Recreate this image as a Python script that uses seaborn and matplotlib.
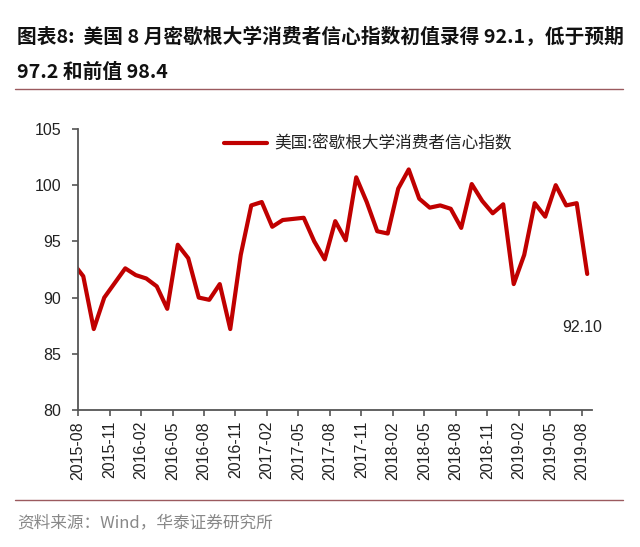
import numpy as np
import pandas as pd
import matplotlib
matplotlib.use("Agg")
import matplotlib.pyplot as plt
import seaborn as sns

# 月度数据：2015-07 ~ 2019-08（2015-07 仅用于左侧截断处的连线）
months = pd.period_range("2015-07", "2019-08", freq="M").strftime("%Y-%m").tolist()
sentiment = [
    93.1,                                                   # 2015-07
    91.9, 87.2, 90.0, 91.3, 92.6,                           # 2015-08 ~ 12
    92.0, 91.7, 91.0, 89.0, 94.7, 93.5, 90.0, 89.8, 91.2, 87.2, 93.8, 98.2,   # 2016
    98.5, 96.3, 96.9, 97.0, 97.1, 95.0, 93.4, 96.8, 95.1, 100.7, 98.5, 95.9,  # 2017
    95.7, 99.7, 101.4, 98.8, 98.0, 98.2, 97.9, 96.2, 100.1, 98.6, 97.5, 98.3, # 2018
    91.2, 93.8, 98.4, 97.2, 100.0, 98.2, 98.4, 92.1,        # 2019-01 ~ 08
]
tick_labels = ["2015-08", "2015-11", "2016-02", "2016-05", "2016-08", "2016-11",
               "2017-02", "2017-05", "2017-08", "2017-11", "2018-02", "2018-05",
               "2018-08", "2018-11", "2019-02", "2019-05", "2019-08"]
series_name = "美国:密歇根大学消费者信心指数"
last_label = "92.10"

df = pd.DataFrame({"month": months, "value": sentiment})
df["pos"] = np.arange(len(df))

sns.set_theme(style="white")
plt.rcParams['font.family'] = ['Noto Sans CJK SC', 'DejaVu Sans']
plt.rcParams['axes.unicode_minus'] = False

fig = plt.figure(figsize=(6.4, 5.47), dpi=100)
ax = fig.add_axes([0.1219, 0.2505, 0.803, 0.5137])

sns.lineplot(data=df, x="pos", y="value", ax=ax, color="#C00000",
             linewidth=3.0, label=series_name)

# 刻标位于相邻两月之间
tick_pos = [df.index[df["month"] == m][0] - 0.5 for m in tick_labels]
ax.set_xticks(tick_pos)
ax.set_xticklabels(tick_labels, rotation=90, family=['Liberation Sans', 'DejaVu Sans'],
                   fontsize=11.5, color="#222222")
ax.set_xlim(0.5, 49.45)
ax.set_ylim(80, 105)
ax.set_yticks([80, 85, 90, 95, 100, 105])
ax.set_yticklabels(["80", "85", "90", "95", "100", "105"],
                   family=['Liberation Sans', 'DejaVu Sans'], fontsize=11.5, color="#222222")
ax.set_xlabel("")
ax.set_ylabel("")

for s in ["top", "right"]:
    ax.spines[s].set_visible(False)
for s in ["left", "bottom"]:
    ax.spines[s].set_color("#555555")
    ax.spines[s].set_linewidth(1.3)
ax.tick_params(axis="both", direction="out", length=4, width=1.2, color="#555555",
               left=True, bottom=True, pad=8)
ax.tick_params(axis="x", pad=4)

leg = ax.legend(loc="upper left", bbox_to_anchor=(0.255, 1.03), frameon=False,
                handlelength=2.6, fontsize=12, handletextpad=0.4)
for t in leg.get_texts():
    t.set_color("#222222")

last = df.iloc[-1]
ax.annotate(last_label, xy=(last["pos"] - 0.45, 87.3), ha="center", va="center",
            fontsize=11.5, family=['Liberation Sans', 'DejaVu Sans'], color="#222222")

# 标题与来源
fig.text(17 / 640, 1 - 37 / 547, "图表8:  美国 8 月密歇根大学消费者信心指数初值录得 92.1，低于预期",
         fontsize=14.2, fontweight="bold", ha="left", va="center", color="#111111")
fig.text(17 / 640, 1 - 72 / 547, "97.2 和前值 98.4",
         fontsize=14.2, fontweight="bold", ha="left", va="center", color="#111111")
fig.add_artist(plt.Line2D([15 / 640, 623 / 640], [1 - 89 / 547, 1 - 89 / 547],
                          color="#9B5A5E", linewidth=1.0))
fig.add_artist(plt.Line2D([15 / 640, 623 / 640], [1 - 500 / 547, 1 - 500 / 547],
                          color="#9B5A5E", linewidth=1.0))
fig.text(17 / 640, 1 - 523 / 547, "资料来源：Wind，华泰证券研究所",
         fontsize=12, ha="left", va="center", color="#888888")

fig.savefig("out.png", dpi=100)
